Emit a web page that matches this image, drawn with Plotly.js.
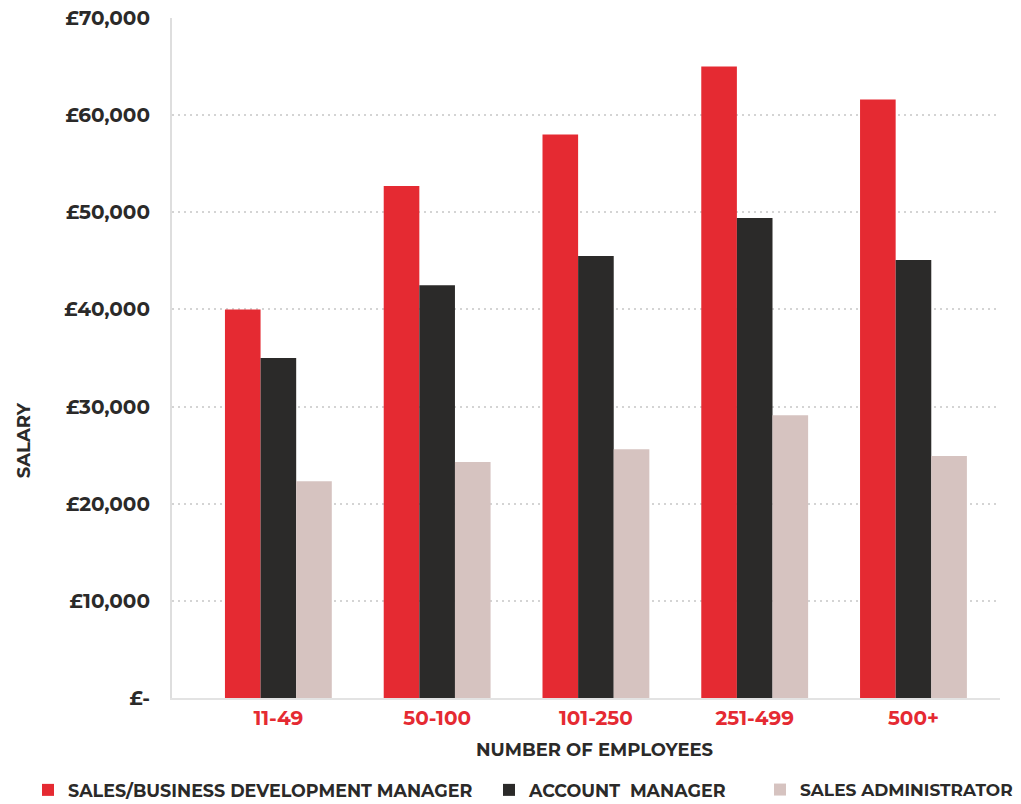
<!DOCTYPE html>
<html>
<head>
<meta charset="utf-8">
<script src="https://cdn.plot.ly/plotly-3.0.1.min.js"></script>
<style>
  html, body { margin: 0; padding: 0; background: #ffffff; }
  #chart { width: 1021px; height: 804px; }
</style>
</head>
<body>
<div id="chart"></div>
<script>
// Company size bands
const categories = ['11-49', '50-100', '101-250', '251-499', '500+'];

// Average salary by role (GBP)
const salesBizDevManager = [40000, 52700, 58000, 65000, 61600];
const accountManager = [35000, 42500, 45500, 49400, 45100];
const salesAdministrator = [22300, 24300, 25600, 29100, 24900];

// Salary axis ticks
const salaryTickValues = [0, 10000, 20000, 30000, 40000, 50000, 60000, 70000];
const salaryTickLabels = ['£-', '£10,000', '£20,000', '£30,000', '£40,000', '£50,000', '£60,000', '£70,000'];

const FONT = 'Montserrat, "Open Sans", "DejaVu Sans", sans-serif';
const DARK = '#2b2a29';
const RED = '#e52a32';

// one legend per series so each key sits at its own spot along the bottom
const series = [
  { name: 'SALES/BUSINESS DEVELOPMENT MANAGER', y: salesBizDevManager, color: RED, legend: 'legend' },
  { name: 'ACCOUNT  MANAGER', y: accountManager, color: DARK, legend: 'legend2' },
  { name: 'SALES ADMINISTRATOR', y: salesAdministrator, color: '#d6c3c0', legend: 'legend3' }
];

const traces = series.map(s => ({
  type: 'bar',
  name: s.name,
  x: categories,
  y: s.y,
  legend: s.legend,
  marker: { color: s.color, line: { width: 0 } },
  hoverinfo: 'x+y+name'
}));

function legendAt(xPx, size) {
  return {
    orientation: 'h',
    xref: 'container',
    yref: 'container',
    x: xPx / 1021,
    xanchor: 'left',
    y: 14 / 804,
    yanchor: 'middle',
    bgcolor: 'rgba(0,0,0,0)',
    font: { family: FONT, size: size, color: DARK, weight: 700 },
    itemwidth: 30
  };
}

const layout = {
  width: 1021,
  height: 804,
  paper_bgcolor: '#ffffff',
  plot_bgcolor: '#ffffff',
  margin: { l: 172, r: 21, t: 18, b: 106, autoexpand: false },
  barmode: 'group',
  bargap: 0.327,
  bargroupgap: 0,
  font: { family: FONT, color: DARK },
  showlegend: true,
  legend: legendAt(28, 17.5),
  legend2: legendAt(489, 17.5),
  legend3: legendAt(760, 17),
  xaxis: {
    type: 'category',
    range: [-0.67, 4.545],
    showline: true,
    linecolor: '#e3e3e3',
    linewidth: 2,
    showgrid: false,
    ticks: '',
    tickfont: { family: FONT, size: 20, color: RED, weight: 700 },
    ticklabelstandoff: 1,
    fixedrange: true
  },
  yaxis: {
    range: [0, 70000],
    tickvals: salaryTickValues,
    ticktext: salaryTickLabels,
    showline: true,
    linecolor: '#dedede',
    linewidth: 2,
    zeroline: false,
    showgrid: true,
    gridcolor: '#d4d4d4',
    gridwidth: 2,
    griddash: '2px,4px',
    ticks: '',
    tickfont: { family: FONT, size: 20, color: DARK, weight: 700 },
    ticklabelstandoff: 16,
    fixedrange: true
  },
  annotations: [
    {
      text: 'NUMBER OF EMPLOYEES',
      xref: 'paper', yref: 'paper',
      x: 0.5097, y: -0.0765,
      xanchor: 'center', yanchor: 'middle',
      showarrow: false,
      font: { family: FONT, size: 18, color: DARK, weight: 700 }
    },
    {
      text: 'SALARY',
      xref: 'paper', yref: 'paper',
      x: -0.1787, y: 0.379,
      xanchor: 'center', yanchor: 'middle',
      textangle: -90,
      showarrow: false,
      font: { family: FONT, size: 18, color: DARK, weight: 700 }
    }
  ]
};

Plotly.newPlot('chart', traces, layout, { displayModeBar: false });
</script>
</body>
</html>
